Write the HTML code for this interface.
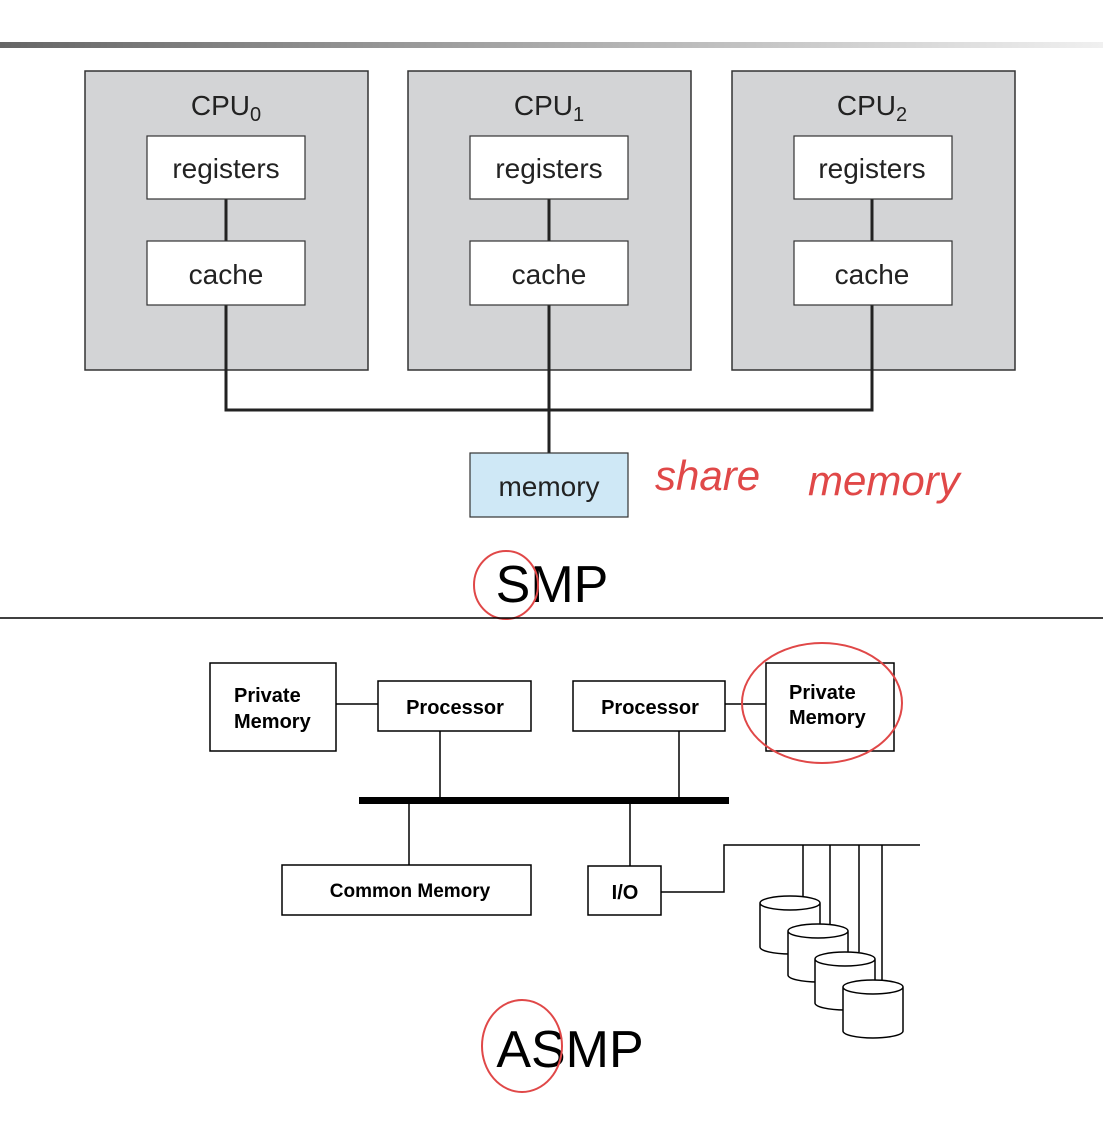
<!DOCTYPE html>
<html><head><style>
html,body{margin:0;padding:0;background:#fff;width:1103px;height:1139px;overflow:hidden}
svg{display:block}
text{font-family:"Liberation Sans",Arial,sans-serif}
.b{font-family:"DejaVu Sans","Liberation Sans",sans-serif;font-weight:bold;font-size:20px}
</style></head><body>
<svg width="1103" height="1139" viewBox="0 0 1103 1139" xmlns="http://www.w3.org/2000/svg">
<defs><linearGradient id="g" x1="0" x2="1"><stop offset="0" stop-color="#666"/><stop offset="1" stop-color="#f0f0f0"/></linearGradient></defs>
<rect x="0" y="42" width="1103" height="6" fill="url(#g)"/>
<g stroke="#333" stroke-width="1.5">
<rect x="85" y="71" width="283" height="299" fill="#d3d4d6"/>
<rect x="408" y="71" width="283" height="299" fill="#d3d4d6"/>
<rect x="732" y="71" width="283" height="299" fill="#d3d4d6"/>
</g>
<g stroke="#222" stroke-width="3" fill="none">
<path d="M226 199V241M549 199V241M872 199V241M226 305V410H872V305M549 305V453"/>
</g>
<g stroke="#333" stroke-width="1.2" fill="#fff">
<rect x="147" y="136" width="158" height="63"/><rect x="147" y="241" width="158" height="64"/>
<rect x="470" y="136" width="158" height="63"/><rect x="470" y="241" width="158" height="64"/>
<rect x="794" y="136" width="158" height="63"/><rect x="794" y="241" width="158" height="64"/>
<rect x="470" y="453" width="158" height="64" fill="#cfe8f6"/>
</g>
<g font-size="28" fill="#222" text-anchor="middle">
<text x="226" y="115">CPU<tspan font-size="20" dy="6">0</tspan></text>
<text x="549" y="115">CPU<tspan font-size="20" dy="6">1</tspan></text>
<text x="872" y="115">CPU<tspan font-size="20" dy="6">2</tspan></text>
<text x="226" y="178">registers</text><text x="226" y="284">cache</text>
<text x="549" y="178">registers</text><text x="549" y="284">cache</text>
<text x="872" y="178">registers</text><text x="872" y="284">cache</text>
<text x="549" y="496">memory</text>
</g>
<text x="655" y="490" font-size="42" fill="#e04848" font-family="DejaVu Sans" font-weight="200" font-style="italic">share</text>
<text x="808" y="495" font-size="42" fill="#e04848" font-family="DejaVu Sans" font-weight="200" font-style="italic">memory</text>
<text x="552" y="602" font-size="52" text-anchor="middle" fill="#000">SMP</text>
<ellipse cx="506" cy="585" rx="32" ry="34" fill="none" stroke="#e04848" stroke-width="2"/>
<line x1="0" y1="618" x2="1103" y2="618" stroke="#000" stroke-width="1.5"/>
<g stroke="#000" stroke-width="1.5" fill="#fff">
<path d="M336 704H378M725 704H766M440 731V800M679 731V800M409 800V865M630 800V866M661 892H724V845H920" fill="none"/>
<rect x="210" y="663" width="126" height="88"/>
<rect x="378" y="681" width="153" height="50"/>
<rect x="573" y="681" width="152" height="50"/>
<rect x="766" y="663" width="128" height="88"/>
<rect x="282" y="865" width="249" height="50"/>
<rect x="588" y="866" width="73" height="49"/>
</g>
<rect x="359" y="797" width="370" height="7" fill="#000"/>
<g stroke="#000" stroke-width="1.5">
<path d="M803 845V896M830 845V924M859 845V952M882 845V980"/>
</g>
<g stroke="#000" stroke-width="1.5" fill="#fff">
<path d="M760 903V947A30 7 0 0 0 820 947V903A30 7 0 0 0 760 903A30 7 0 0 0 820 903"/>
<path d="M788 931V975A30 7 0 0 0 848 975V931A30 7 0 0 0 788 931A30 7 0 0 0 848 931"/>
<path d="M815 959V1003A30 7 0 0 0 875 1003V959A30 7 0 0 0 815 959A30 7 0 0 0 875 959"/>
<path d="M843 987V1031A30 7 0 0 0 903 1031V987A30 7 0 0 0 843 987A30 7 0 0 0 903 987"/>
</g>
<g class="b" fill="#000">
<text x="234" y="702">Private</text><text x="234" y="728">Memory</text>
<text x="455" y="714" text-anchor="middle">Processor</text>
<text x="650" y="714" text-anchor="middle">Processor</text>
<text x="789" y="699">Private</text><text x="789" y="724">Memory</text>
<text x="410" y="897" text-anchor="middle" font-size="19">Common Memory</text>
<text x="625" y="899" text-anchor="middle">I/O</text>
</g>
<ellipse cx="822" cy="703" rx="80" ry="60" fill="none" stroke="#e04848" stroke-width="2"/>
<text x="570" y="1067" font-size="52" text-anchor="middle" fill="#000">ASMP</text>
<ellipse cx="522" cy="1046" rx="40" ry="46" fill="none" stroke="#e04848" stroke-width="2"/>
</svg>
</body></html>
